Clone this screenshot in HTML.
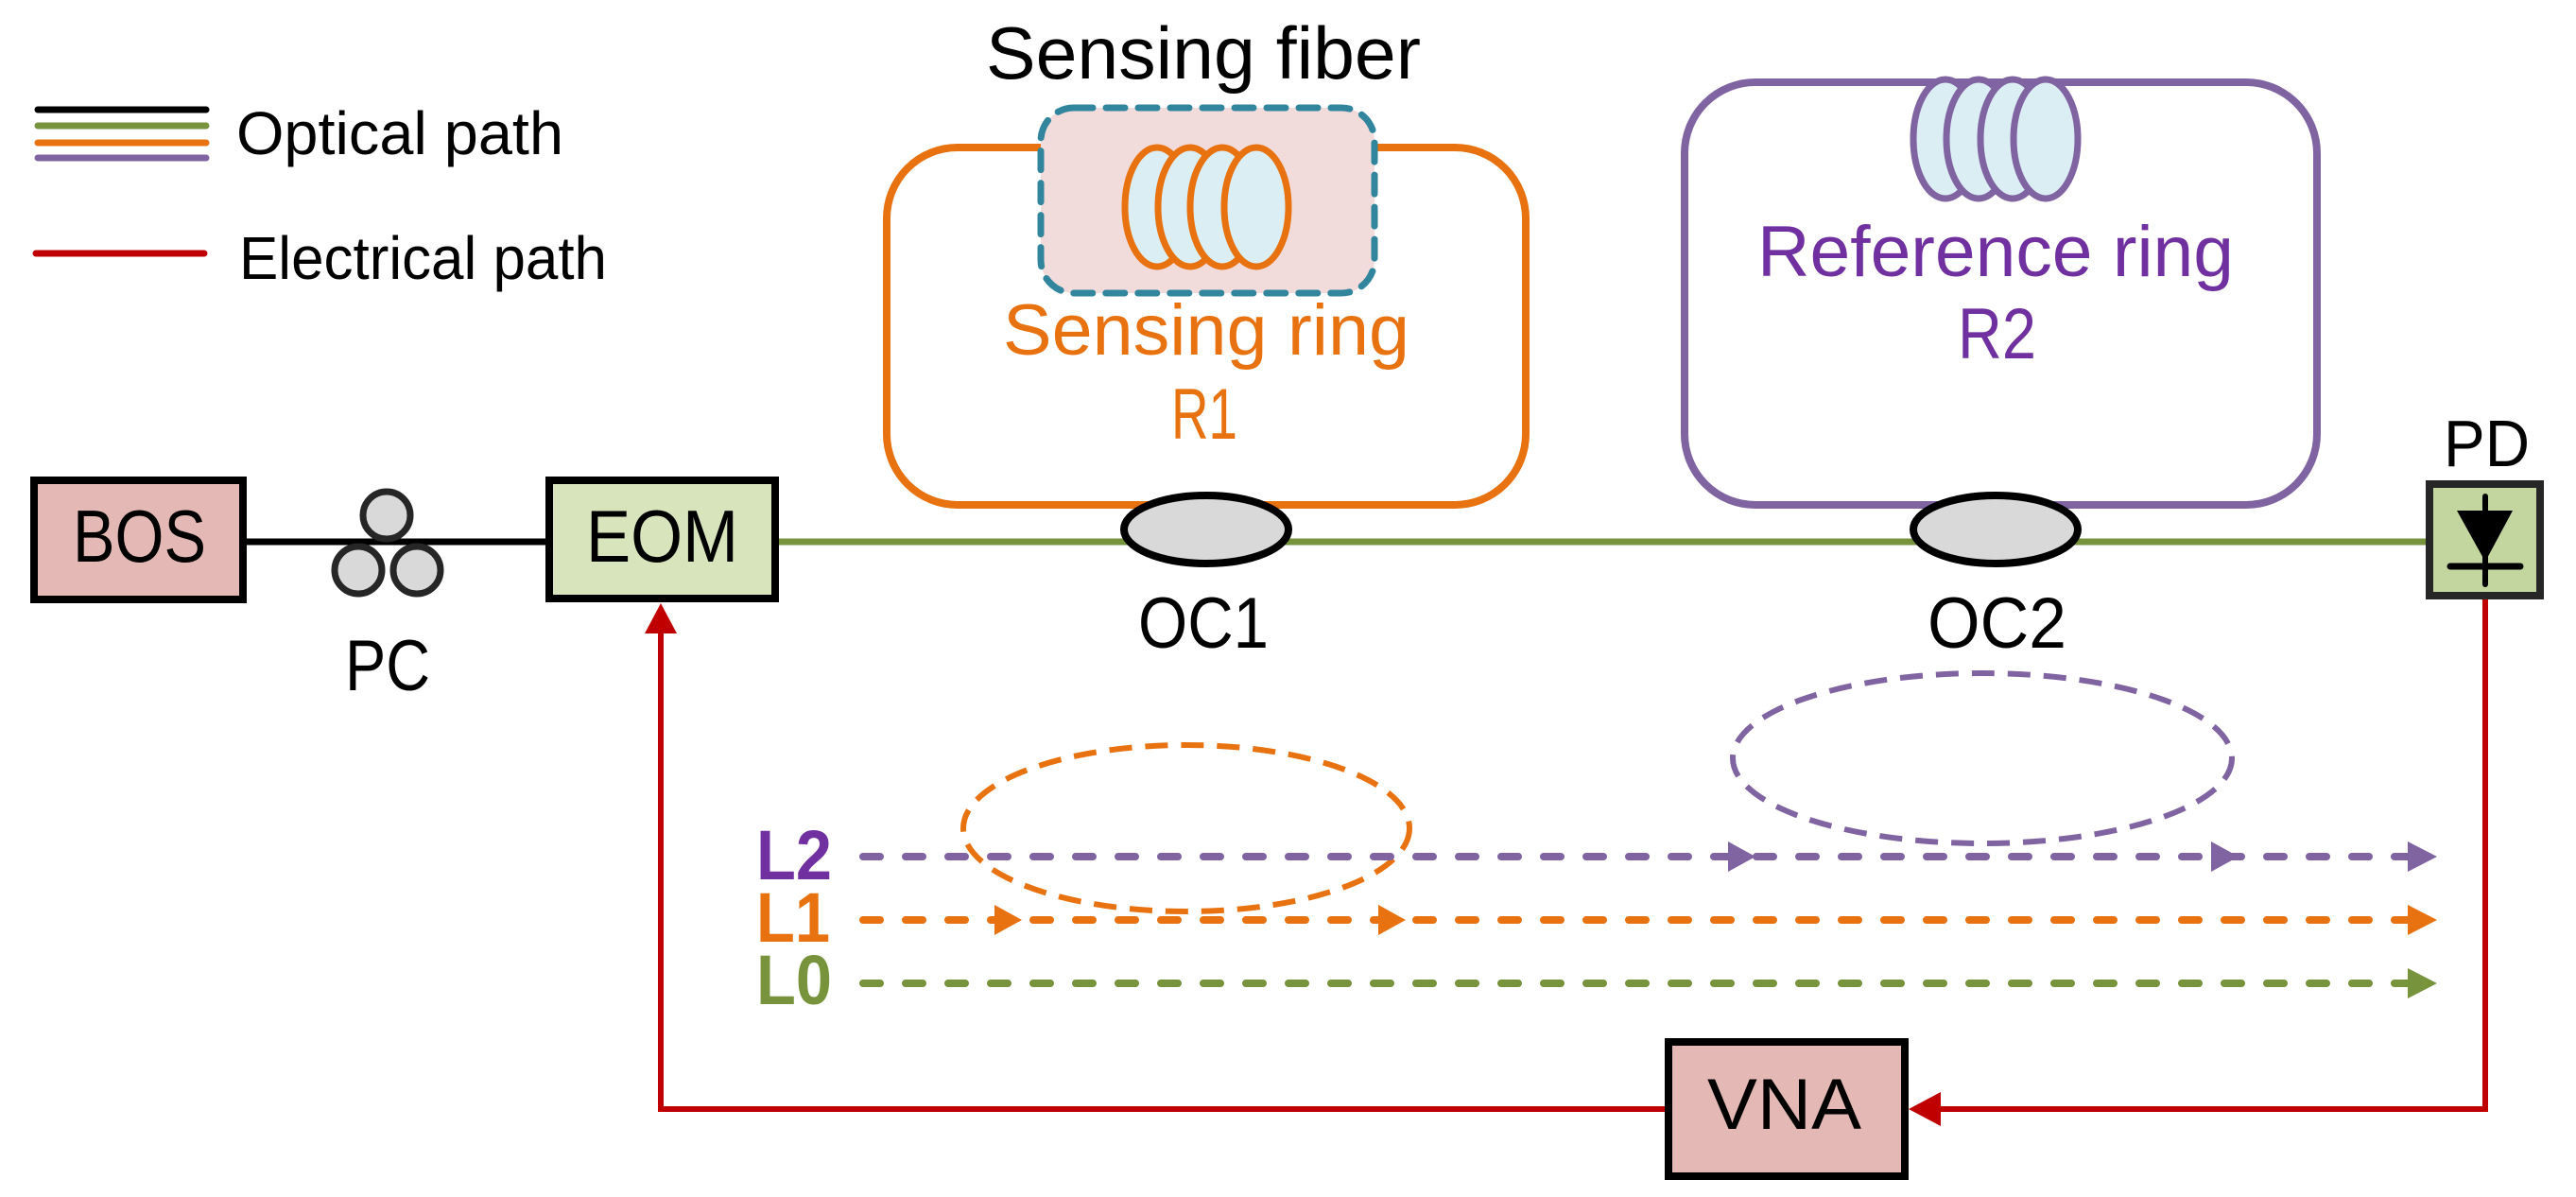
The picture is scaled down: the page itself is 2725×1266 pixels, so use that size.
<!DOCTYPE html>
<html><head><meta charset="utf-8"><style>html,body{margin:0;padding:0;background:#fff}svg{display:block}text{font-family:"Liberation Sans",sans-serif}</style></head>
<body>
<svg width="2725" height="1266" viewBox="0 0 2725 1266" xmlns="http://www.w3.org/2000/svg">
<!-- legend -->
<g stroke-width="7" stroke-linecap="round">
<line x1="40" y1="116" x2="218" y2="116" stroke="#000"/>
<line x1="40" y1="133" x2="218" y2="133" stroke="#77933c"/>
<line x1="40" y1="151" x2="218" y2="151" stroke="#e8720f"/>
<line x1="40" y1="167" x2="218" y2="167" stroke="#8064a2"/>
<line x1="38" y1="268" x2="216" y2="268" stroke="#c00000"/>
</g>
<text x="250" y="163" font-size="64" textLength="346" lengthAdjust="spacingAndGlyphs">Optical path</text>
<text x="253" y="295" font-size="64" textLength="389" lengthAdjust="spacingAndGlyphs">Electrical path</text>

<!-- main lines -->
<line x1="261" y1="573" x2="577" y2="573" stroke="#000" stroke-width="7"/>
<line x1="824" y1="573" x2="2566" y2="573" stroke="#77933c" stroke-width="7"/>

<!-- rings -->
<rect x="938" y="156" width="676" height="378" rx="75" fill="none" stroke="#e8720f" stroke-width="8"/>
<rect x="1782" y="87" width="669" height="447" rx="75" fill="none" stroke="#8064a2" stroke-width="8"/>

<!-- sensing fiber box -->
<rect x="1101" y="114" width="353" height="196" rx="35" fill="#f2dcdb" stroke="#31859c" stroke-width="7" stroke-dasharray="20 14" stroke-linecap="round"/>
<text x="1043" y="83" font-size="78" textLength="460" lengthAdjust="spacingAndGlyphs">Sensing fiber</text>

<!-- coils R1 -->
<g fill="#dbeef4" stroke="#e8720f" stroke-width="7">
<ellipse cx="1224" cy="219" rx="34" ry="63"/>
<ellipse cx="1259" cy="219" rx="34" ry="63"/>
<ellipse cx="1293" cy="219" rx="34" ry="63"/>
<ellipse cx="1329" cy="219" rx="34" ry="63"/>
</g>
<!-- coils R2 -->
<g fill="#dbeef4" stroke="#8064a2" stroke-width="7">
<ellipse cx="2058" cy="147" rx="34" ry="63"/>
<ellipse cx="2093" cy="147" rx="34" ry="63"/>
<ellipse cx="2129" cy="147" rx="34" ry="63"/>
<ellipse cx="2164" cy="147" rx="34" ry="63"/>
</g>

<text x="1061" y="375" font-size="76" fill="#e8720f" textLength="430" lengthAdjust="spacingAndGlyphs">Sensing ring</text>
<text x="1239" y="464" font-size="76" fill="#e8720f" textLength="70" lengthAdjust="spacingAndGlyphs">R1</text>
<text x="1859" y="292" font-size="76" fill="#7030a0" textLength="504" lengthAdjust="spacingAndGlyphs">Reference ring</text>
<text x="2071" y="379" font-size="76" fill="#7030a0" textLength="83" lengthAdjust="spacingAndGlyphs">R2</text>

<!-- couplers -->
<ellipse cx="1276" cy="560" rx="87" ry="36" fill="#d9d9d9" stroke="#000" stroke-width="8"/>
<ellipse cx="2111" cy="560" rx="87" ry="36" fill="#d9d9d9" stroke="#000" stroke-width="8"/>
<text x="1204" y="685" font-size="76" textLength="138" lengthAdjust="spacingAndGlyphs">OC1</text>
<text x="2039" y="685" font-size="76" textLength="147" lengthAdjust="spacingAndGlyphs">OC2</text>

<!-- BOS -->
<rect x="36" y="508" width="221" height="126" fill="#e4b8b4" stroke="#000" stroke-width="8"/>
<text x="77" y="594" font-size="78" textLength="141" lengthAdjust="spacingAndGlyphs">BOS</text>
<!-- PC -->
<g fill="#d9d9d9" stroke="#262626" stroke-width="7">
<circle cx="409" cy="545" r="25"/>
<circle cx="379" cy="603" r="25"/>
<circle cx="441" cy="603" r="25"/>
</g>
<text x="365" y="730" font-size="76" textLength="90" lengthAdjust="spacingAndGlyphs">PC</text>
<!-- EOM -->
<rect x="581" y="508" width="239" height="125" fill="#d8e4bc" stroke="#000" stroke-width="8"/>
<text x="620" y="594" font-size="78" textLength="161" lengthAdjust="spacingAndGlyphs">EOM</text>

<!-- PD -->
<text x="2585" y="493" font-size="70" textLength="91" lengthAdjust="spacingAndGlyphs">PD</text>
<rect x="2570" y="512" width="117" height="118" fill="#c4d6a0" stroke="#262626" stroke-width="8"/>
<line x1="2629" y1="525" x2="2629" y2="618" stroke="#000" stroke-width="6" stroke-linecap="round"/>
<polygon points="2599,540 2658,540 2629,594" fill="#000"/>
<line x1="2592" y1="599" x2="2666" y2="599" stroke="#000" stroke-width="7" stroke-linecap="round"/>

<!-- electrical -->
<polyline points="2629,634 2629,1173 2050,1173" fill="none" stroke="#c00000" stroke-width="6"/>
<polygon points="2019,1173 2053,1155 2053,1191" fill="#c00000"/>
<polyline points="1761,1173 699,1173 699,665" fill="none" stroke="#c00000" stroke-width="6"/>
<polygon points="699,638 682,670 716,670" fill="#c00000"/>
<rect x="1765" y="1102" width="250" height="142" fill="#e4b8b4" stroke="#000" stroke-width="8"/>
<text x="1806" y="1194" font-size="76" textLength="163" lengthAdjust="spacingAndGlyphs">VNA</text>

<!-- loops -->
<ellipse cx="1255" cy="876" rx="236" ry="88" fill="none" stroke="#e8720f" stroke-width="6" stroke-dasharray="24 14"/>
<ellipse cx="2097" cy="802" rx="264" ry="90" fill="none" stroke="#8064a2" stroke-width="6" stroke-dasharray="24 14"/>

<!-- dashed paths -->
<g stroke-width="8" stroke-linecap="round" stroke-dasharray="18 27" fill="none">
<line x1="913" y1="906" x2="2550" y2="906" stroke="#8064a2"/>
<line x1="913" y1="973" x2="2550" y2="973" stroke="#e8720f"/>
<line x1="913" y1="1040" x2="2550" y2="1040" stroke="#77933c"/>
</g>
<g fill="#8064a2">
<polygon points="2578,906 2547,890 2547,922"/>
<polygon points="1857,906 1828,890 1828,922"/>
<polygon points="2368,906 2339,890 2339,922"/>
</g>
<g fill="#e8720f">
<polygon points="2578,973 2547,957 2547,989"/>
<polygon points="1081,973 1052,957 1052,989"/>
<polygon points="1487,973 1458,957 1458,989"/>
</g>
<polygon points="2578,1040 2547,1024 2547,1056" fill="#77933c"/>

<text x="800" y="930" font-size="74" font-weight="bold" fill="#7030a0" textLength="80" lengthAdjust="spacingAndGlyphs">L2</text>
<text x="800" y="996" font-size="74" font-weight="bold" fill="#e8720f" textLength="78" lengthAdjust="spacingAndGlyphs">L1</text>
<text x="800" y="1062" font-size="74" font-weight="bold" fill="#77933c" textLength="80" lengthAdjust="spacingAndGlyphs">L0</text>
</svg>
</body></html>
